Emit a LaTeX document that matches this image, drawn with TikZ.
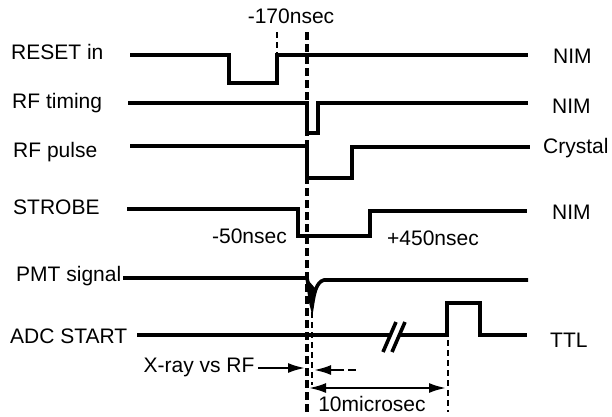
\documentclass[tikz,border=0pt]{standalone}
\usepackage{fontspec}
\setmainfont{Liberation Sans}
\usetikzlibrary{arrows.meta}
\tikzstyle{every node}=[font=\fontsize{21}{25}\selectfont, inner sep=0pt]
\tikzstyle{wave}=[line width=3.6pt, line join=miter]
\tikzstyle{marker}=[line width=4.5pt, dash pattern=on 8pt off 4pt]
\tikzstyle{guide}=[line width=2pt, dash pattern=on 6pt off 4pt]
\tikzstyle{dim}=[line width=2.2pt, -{Latex[length=17pt,width=10pt]}]

\begin{document}
\begin{tikzpicture}[x=1pt,y=-1pt]
    \useasboundingbox (0,0) rectangle (612,416);
    % signal names
    \node [anchor=west] (reset) at (11,52) {RESET in};
    \node [anchor=west] (rftim) at (12,103) {RF timing};
    \node [anchor=west] (rfpul) at (13,152) {RF pulse};
    \node [anchor=west] (strobe) at (13,207) {STROBE};
    \node [anchor=west] (pmt) at (16,276) {PMT signal};
    \node [anchor=west] (adc) at (10,336) {ADC START};
    % levels
    \node [anchor=west] (nim1) at (553,56) {NIM};
    \node [anchor=west] (nim2) at (552,106) {NIM};
    \node [anchor=west] (crystal) at (543,148) {Crystal};
    \node [anchor=west] (nim3) at (552,212) {NIM};
    \node [anchor=west] (ttl) at (550,340) {TTL};
    % waveforms
    \draw [wave] (130,55) -- (229,55) -- (229,83) -- (277,83) -- (277,55) -- (528,55);
    \draw [wave] (128,103) -- (307,103) -- (307,133) -- (318,133) -- (318,103) -- (528,103);
    \draw [wave] (130,146) -- (307,146) -- (307,178) -- (352,178) -- (352,147) -- (530,147);
    \draw [wave] (127,209) -- (298,209) -- (298,236) -- (370,236) -- (370,211) -- (527,211);
    \draw [wave] (123,278) -- (307,278) .. controls (309,288) and (310,300) .. (312,307)
        .. controls (314,294) and (316,282) .. (324,280) -- (528,280);
    \fill (308,280) -- (312,305) -- (315,288) -- cycle;
    \draw [wave] (137,335) -- (389,335);
    \draw [wave] (399,335) -- (447,335) -- (447,303) -- (480,303) -- (480,335) -- (527,335);
    \draw [wave] (383,352) -- (396,322);
    \draw [wave] (392,352) -- (405,322);
    % timing marks
    \coordinate (m0) at (307,32);
    \coordinate (m1) at (307,412);
    \draw [marker] (m0) -- (m1);
    \draw [guide] (277,32) -- (277,55);
    \draw [guide] (312,312) -- (312,385);
    \draw [guide] (448,340) -- (448,412);
    \node (t170) at (291,16) {-170nsec};
    \node [anchor=east] (t50) at (287,236) {-50nsec};
    \node [anchor=west] (t450) at (387,238) {+450nsec};
    % intervals
    \node (xray) at (199,367) {X-ray vs RF};
    \coordinate (xa) at (258,368);
    \coordinate (xb) at (305,368);
    \draw [dim] (xa) -- (xb);
    \coordinate (ya) at (344,370);
    \coordinate (yb) at (314,370);
    \draw [dim] (ya) -- (yb);
    \draw [line width=2.2pt] (348,370) -- (356,370);
    \coordinate (za) at (309,388);
    \coordinate (zb) at (446,388);
    \draw [dim, {Latex[length=17pt,width=10pt]}-{Latex[length=17pt,width=10pt]}] (za) -- (zb);
    \node (tmu) at (372,404) {10microsec};
\end{tikzpicture}
\end{document}
